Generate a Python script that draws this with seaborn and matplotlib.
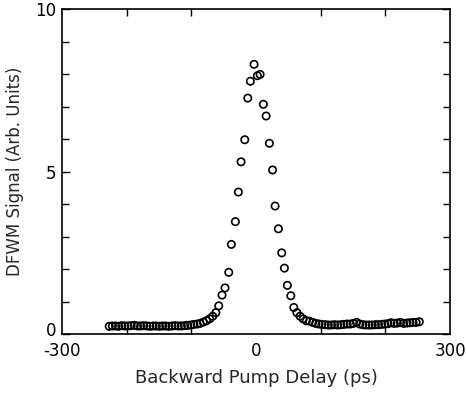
import matplotlib
matplotlib.use("Agg")
import matplotlib.pyplot as plt
import matplotlib.transforms as mtransforms
import seaborn as sns
import pandas as pd
from matplotlib.ticker import MultipleLocator, FixedLocator

delay_left = [-227.0, -222.2, -217.3, -212.5, -207.6, -202.8, -197.9, -193.1, -188.2,
              -183.4, -178.5, -173.7, -168.8, -164.0, -159.1, -154.3, -149.4, -144.6,
              -139.7, -134.9, -130.0, -125.2, -120.3, -115.5, -110.6, -105.8, -100.9,
              -96.1, -91.2, -86.4, -81.5, -76.7, -71.8, -67.0, -62.1]
signal_left = [0.24, 0.25, 0.25, 0.24, 0.26, 0.25, 0.25, 0.26, 0.27,
               0.25, 0.25, 0.26, 0.25, 0.24, 0.25, 0.25, 0.24, 0.25,
               0.25, 0.24, 0.25, 0.26, 0.25, 0.25, 0.26, 0.27, 0.28,
               0.30, 0.31, 0.33, 0.37, 0.41, 0.47, 0.55, 0.66]

delay_peak = [-57.7, -52.6, -48.0, -42.2, -38.2, -32.0, -27.4, -23.2, -17.5, -12.8,
              -8.8, -3.1, 2.0, 6.2, 11.3, 15.5, 20.6, 25.5, 29.4, 34.5, 39.7, 43.8,
              48.4, 53.7]
signal_peak = [0.87, 1.20, 1.42, 1.90, 2.76, 3.46, 4.37, 5.30, 5.98, 7.26,
               7.78, 8.30, 7.95, 7.99, 7.07, 6.71, 5.87, 5.05, 3.94, 3.24, 2.50, 2.03,
               1.50, 1.18]

delay_right = [58.3, 63.1, 68.0, 72.8, 77.7, 82.5, 87.4, 92.2, 97.1, 101.9, 106.8,
               111.6, 116.5, 121.3, 126.2, 131.0, 135.9, 140.7, 145.6, 150.4, 155.3,
               160.1, 165.0, 169.8, 174.7, 179.5, 184.4, 189.2, 194.1, 198.9, 203.8,
               208.6, 213.5, 218.3, 223.2, 228.0, 232.9, 237.7, 242.6, 247.4, 252.3]
signal_right = [0.82, 0.66, 0.55, 0.47, 0.41, 0.40, 0.36, 0.33, 0.31, 0.30, 0.29,
                0.28, 0.28, 0.29, 0.28, 0.29, 0.30, 0.31, 0.31, 0.33, 0.36,
                0.31, 0.29, 0.28, 0.28, 0.28, 0.29, 0.29, 0.30, 0.31, 0.32,
                0.35, 0.33, 0.34, 0.36, 0.33, 0.34, 0.35, 0.36, 0.36, 0.38]

x_major = [-300, 0, 300]
y_major = [0, 5, 10]

df = pd.DataFrame({
    "delay": delay_left + delay_peak + delay_right,
    "signal": signal_left + signal_peak + signal_right,
})

sns.set_style("ticks")
plt.rcParams["font.family"] = ["DejaVu Sans"]

fig = plt.figure(figsize=(4.66, 3.94), dpi=100)
ax = fig.add_axes([0.133, 0.152, 0.833, 0.825])

sns.scatterplot(data=df, x="delay", y="signal", ax=ax, marker="o", s=28,
                facecolor="none", edgecolor="black", linewidth=1.2, legend=False)

ax.set_xlim(-300, 300)
ax.set_ylim(0, 10)
ax.xaxis.set_major_locator(FixedLocator(x_major))
ax.xaxis.set_minor_locator(MultipleLocator(100))
ax.yaxis.set_major_locator(FixedLocator(y_major))
ax.yaxis.set_minor_locator(MultipleLocator(1))
ax.set_xticklabels([str(v) for v in x_major])
ax.set_yticklabels([str(v) for v in y_major])

ax.tick_params(which="both", direction="in", top=True, right=True, width=1.0,
               labelsize=12, colors="black")
ax.tick_params(which="major", length=0, pad=4)
ax.tick_params(which="minor", length=5)
ax.tick_params(axis="y", which="major", length=6)
ax.tick_params(axis="x", which="major", pad=6)
for s in ax.spines.values():
    s.set_linewidth(1.2)
    s.set_color("black")

# nudge the y "0" label up slightly so it clears the "-300" label
lbl0 = ax.get_yticklabels()[0]
lbl0.set_transform(lbl0.get_transform() + mtransforms.ScaledTranslation(0, 4 / 72, fig.dpi_scale_trans))

ax.set_xlabel("Backward Pump Delay (ps)", fontsize=13, labelpad=6)
ax.set_ylabel("DFWM Signal (Arb. Units)", fontsize=12, labelpad=8)

fig.savefig("out.png", dpi=100)
